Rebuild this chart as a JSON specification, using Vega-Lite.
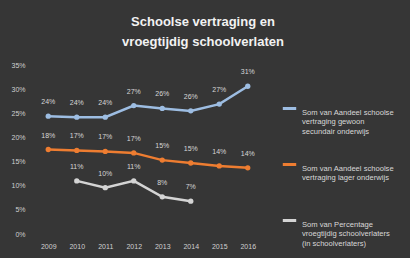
{
  "$schema": "https://vega.github.io/schema/vega-lite/v6.json",
  "width": 228,
  "height": 169,
  "autosize": "none",
  "padding": {"left": 34, "top": 65, "right": 148, "bottom": 24},
  "background": "#363636",
  "title": {
    "text": ["Schoolse  vertraging  en", "vroegtijdig  schoolverlaten"],
    "anchor": "middle",
    "frame": "bounds",
    "color": "#f2f2f2",
    "fontSize": 13,
    "fontWeight": "bold",
    "font": "Liberation Sans",
    "lineHeight": 20,
    "offset": 12
  },
  "config": {
    "view": {"stroke": null},
    "axis": {"labelFont": "Liberation Sans", "labelColor": "#d0d0d0", "labelFontSize": 7, "domain": false, "ticks": false, "grid": false, "title": null}
  },
  "data": {
    "values": [
      {"jaar": "2009", "reeks": "A", "waarde": 0.244},
      {"jaar": "2010", "reeks": "A", "waarde": 0.242},
      {"jaar": "2011", "reeks": "A", "waarde": 0.242},
      {"jaar": "2012", "reeks": "A", "waarde": 0.266},
      {"jaar": "2013", "reeks": "A", "waarde": 0.260},
      {"jaar": "2014", "reeks": "A", "waarde": 0.255},
      {"jaar": "2015", "reeks": "A", "waarde": 0.269},
      {"jaar": "2016", "reeks": "A", "waarde": 0.306},
      {"jaar": "2009", "reeks": "B", "waarde": 0.175},
      {"jaar": "2010", "reeks": "B", "waarde": 0.173},
      {"jaar": "2011", "reeks": "B", "waarde": 0.171},
      {"jaar": "2012", "reeks": "B", "waarde": 0.168},
      {"jaar": "2013", "reeks": "B", "waarde": 0.153},
      {"jaar": "2014", "reeks": "B", "waarde": 0.147},
      {"jaar": "2015", "reeks": "B", "waarde": 0.141},
      {"jaar": "2016", "reeks": "B", "waarde": 0.137},
      {"jaar": "2010", "reeks": "C", "waarde": 0.110},
      {"jaar": "2011", "reeks": "C", "waarde": 0.096},
      {"jaar": "2012", "reeks": "C", "waarde": 0.110},
      {"jaar": "2013", "reeks": "C", "waarde": 0.077},
      {"jaar": "2014", "reeks": "C", "waarde": 0.068}
    ]
  },
  "encoding": {
    "x": {"field": "jaar", "type": "ordinal", "scale": {"type": "point", "padding": 0.5}, "axis": {"labelAngle": 0, "labelPadding": 8}},
    "y": {"field": "waarde", "type": "quantitative", "scale": {"domain": [0, 0.35]}, "axis": {"format": ".0%", "values": [0, 0.05, 0.1, 0.15, 0.2, 0.25, 0.3, 0.35], "labelPadding": 9}},
    "color": {
      "field": "reeks",
      "type": "nominal",
      "scale": {"domain": ["A", "B", "C"], "range": ["#9dbde2", "#ee7d31", "#d4d4d4"]},
      "legend": {
        "orient": "none",
        "legendX": 247,
        "legendY": 35,
        "title": null,
        "symbolType": "stroke",
        "symbolSize": 180,
        "symbolStrokeWidth": 3,
        "labelFont": "Liberation Sans",
        "labelFontSize": 7.6,
        "labelLineHeight": 12.5,
        "labelColor": "#d8d8d8",
        "labelBaseline": "top",
        "labelOffset": 4,
        "rowPadding": 20,
        "labelLimit": 200,
        "labelExpr": "datum.label == 'A' ? ['Som van Aandeel schoolse', 'vertraging gewoon', 'secundair onderwijs'] : datum.label == 'B' ? ['Som van Aandeel schoolse', 'vertraging lager onderwijs', ' '] : ['Som van Percentage', 'vroegtijdig schoolverlaters', '(in schoolverlaters)']"
      }
    }
  },
  "layer": [
    {"mark": {"type": "line", "strokeWidth": 2.5}},
    {"mark": {"type": "point", "filled": true, "size": 28, "opacity": 1}},
    {
      "mark": {"type": "text", "dy": -14, "fontSize": 7, "font": "Liberation Sans", "color": "#d6d6d6"},
      "encoding": {"text": {"field": "waarde", "type": "quantitative", "format": ".0%"}, "color": {"value": "#d6d6d6"}}
    }
  ]
}
